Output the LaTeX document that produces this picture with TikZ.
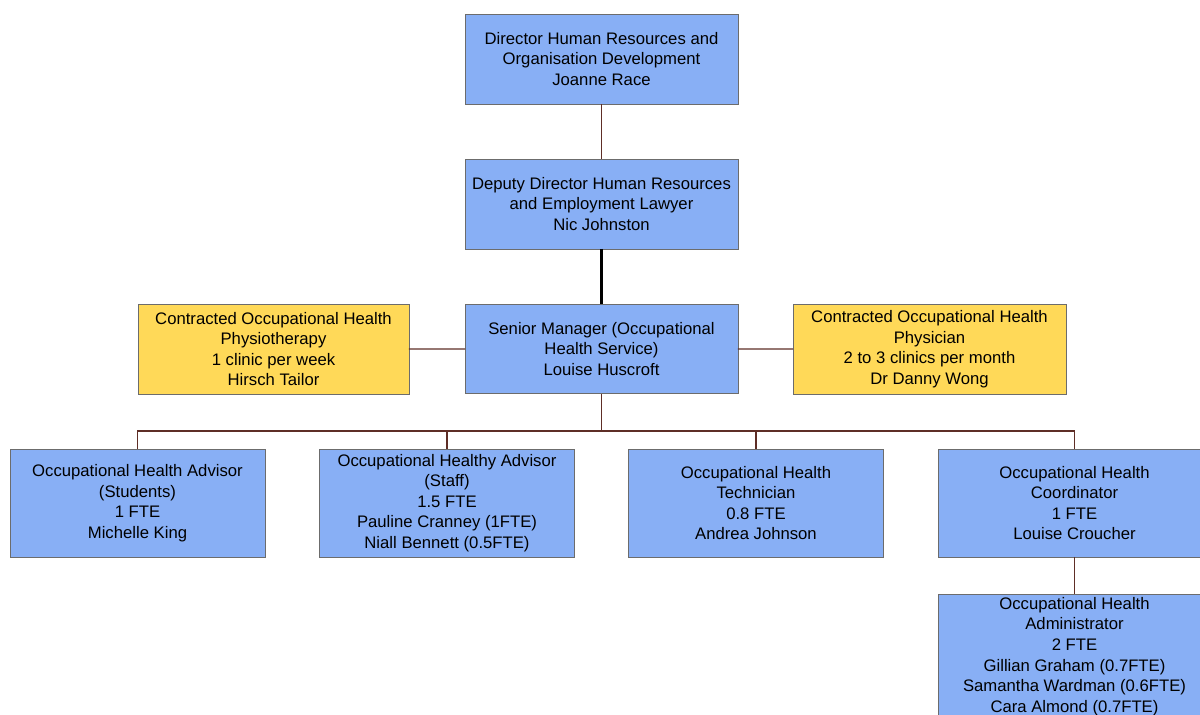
\documentclass[tikz,border=0pt]{standalone}
\usepackage{fontspec}
\setmainfont{Liberation Sans}
\usepackage{xcolor}
\usepackage{tikz}
\usetikzlibrary{positioning}

\definecolor{postblue}{RGB}{136,175,245}
\definecolor{extyellow}{RGB}{255,217,88}
\definecolor{linkbrown}{RGB}{94,46,38}

\begin{document}
\begin{tikzpicture}[
      x=0.02cm, y=-0.02cm,
      font=\fontsize{9.5}{11.7}\selectfont,
      post/.style={rectangle, draw=gray!85!black, fill=postblue, line width=0.5pt,
        align=center, inner sep=0pt, outer sep=0pt, minimum width=5.46cm, minimum height=1.8cm},
      ext/.style={post, fill=extyellow},
      team/.style={post, minimum width=5.1cm, minimum height=2.16cm},
      link/.style={draw=linkbrown, line width=0.75pt},
      spine/.style={draw=black, line width=1.4pt}
    ]
      \clip (0,0) rectangle (1200,715);
      % management line
      \node[post] (dir) at (601.5,59) {Director Human Resources and\\Organisation Development\\Joanne Race};
      \node[post, below=1.1cm of dir] (dep) {Deputy Director Human Resources\\and Employment Lawyer\\Nic Johnston};
      \node[post, below=1.1cm of dep] (sen) {Senior Manager (Occupational\\Health Service)\\Louise Huscroft};
      % contracted services
      \node[ext, minimum width=5.42cm] (physio) at (273.5,349) {Contracted Occupational Health\\Physiotherapy\\1 clinic per week\\Hirsch Tailor};
      \node[ext] (doc) at (929.5,349) {Contracted Occupational Health\\Physician\\2 to 3 clinics per month\\Dr Danny Wong};
      % team
      \node[team] (stu) at (137.5,503) {Occupational Health Advisor\\(Students)\\1 FTE\\Michelle King};
      \node[team] (staff) at (447,503) {Occupational Healthy Advisor\\(Staff)\\1.5 FTE\\Pauline Cranney (1FTE)\\Niall Bennett (0.5FTE)};
      \node[team] (tech) at (756,503) {Occupational Health\\Technician\\0.8 FTE\\Andrea Johnson};
      \node[team, minimum width=5.46cm] (coord) at (1074.5,503) {Occupational Health\\Coordinator\\1 FTE\\Louise Croucher};
      \node[post, minimum height=2.5cm] (adm) at (1074.5,656.5) {Occupational Health\\Administrator\\2 FTE\\Gillian Graham (0.7FTE)\\Samantha Wardman (0.6FTE)\\Cara Almond (0.7FTE)};
      \coordinate (bus) at (601.5,431);

      \draw[link] (dir) -- (dep);
      \draw[spine] (dep) -- (sen);
      \draw[link] (physio) -- (sen);
      \draw[link] (sen) -- (doc);
      \draw[link] (sen) -- (bus);
      \foreach \n in {stu,staff,tech,coord}
        \draw[link] (bus) -| (\n);
      \draw[link] (coord) -- (adm);
    \end{tikzpicture}
\end{document}
